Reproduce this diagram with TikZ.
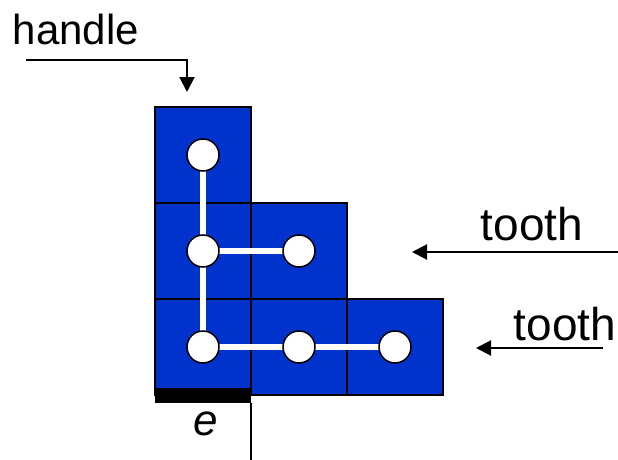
\documentclass[tikz,border=0pt]{standalone}
\usepackage{fontspec}
\setmainfont{Liberation Sans}
\usetikzlibrary{arrows.meta}
\definecolor{cellblue}{RGB}{0,51,204}
\begin{document}
\begin{tikzpicture}[x=1pt,y=-1pt,
  cell/.style={draw=black,line width=2pt,fill=cellblue,minimum size=96pt,inner sep=0pt,outer sep=0pt},
  knob/.style={circle,draw=black,line width=1.5pt,fill=white,minimum size=32pt,inner sep=0pt},
  link/.style={draw=white,line width=6pt},
  label/.style={font=\fontsize{42}{48}\selectfont,inner sep=0pt,anchor=base},
  toothlabel/.style={label,font=\fontsize{46}{52}\selectfont},
  pointer/.style={draw=black,line width=2pt,-{Triangle[length=15pt,width=15pt]}}]
\useasboundingbox (0,0) rectangle (618,460);

% L-shaped polyomino cells
\node[cell] (c11) at (203,155) {};
\node[cell] (c21) at (203,251) {};
\node[cell] (c22) at (299,251) {};
\node[cell] (c31) at (203,347) {};
\node[cell] (c32) at (299,347) {};
\node[cell] (c33) at (395,347) {};

% edge marker under the handle cell
\fill[black] (155,388) rectangle (251,403);
\coordinate (eTop) at (251,403);
\coordinate (eBot) at (251,460);
\draw[line width=2pt] (eTop) -- (eBot);
\node[label,font=\fontsize{44}{50}\selectfont\itshape] (e) at (206,435) {e};

% tree connecting the cell centres
\path[link] (c11.center) -- (c31.center);
\path[link] (c21.center) -- (c22.center);
\path[link] (c31.center) -- (c33.center);
\node[knob] (k11) at (c11) {};
\node[knob] (k21) at (c21) {};
\node[knob] (k22) at (c22) {};
\node[knob] (k31) at (c31) {};
\node[knob] (k32) at (c32) {};
\node[knob] (k33) at (c33) {};

% labels and pointers
\node[label] (handle) at (76,45) {handle};
\coordinate (hStart) at (26,60);
\coordinate (hBend) at (187,60);
\coordinate (hTip) at (187,92);
\draw[pointer] (hStart) -- (hBend) -- (hTip);

\node[toothlabel] (tooth1) at (532,240) {tooth};
\coordinate (t1Start) at (618,252);
\coordinate (t1Tip) at (412,252);
\draw[pointer] (t1Start) -- (t1Tip);

\node[toothlabel] (tooth2) at (565,340) {tooth};
\coordinate (t2Start) at (603,348);
\coordinate (t2Tip) at (476,348);
\draw[pointer] (t2Start) -- (t2Tip);
\end{tikzpicture}
\end{document}
